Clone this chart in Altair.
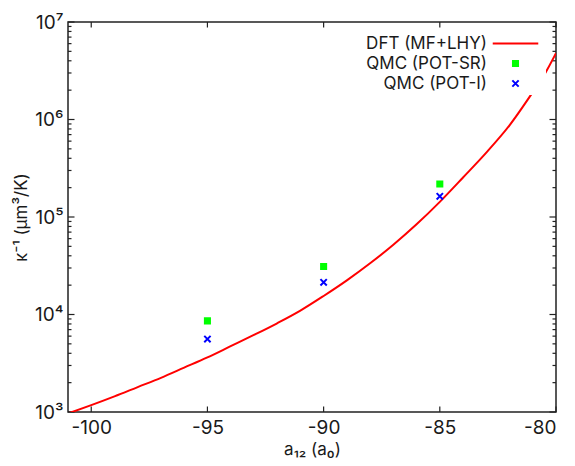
import altair as alt
import pandas as pd

# ---- data ----
x_dft = [-101, -100, -99, -98, -97, -96, -95, -94, -93, -92, -91, -90, -89, -88,
         -87, -86, -85, -84, -83, -82, -81, -80.5, -80]
y_dft = [966, 1175, 1445, 1800, 2240, 2850, 3630, 4730, 6170, 8130, 10960, 15490,
         22390, 33500, 51900, 84100, 142900, 254100, 457100, 871000, 1905000,
         2884000, 4786000]
x_qmc = [-95, -90, -85]
y_sr = [8600, 31000, 218000]
y_i = [5600, 21400, 163000]
series_names = ["DFT (MF+LHY)", "QMC (POT-SR)", "QMC (POT-I)"]

x_ticks = [-100, -95, -90, -85, -80]
y_ticks = [1e3, 1e4, 1e5, 1e6, 1e7]
y_minor = [k * 10 ** e for e in range(3, 7) for k in range(2, 10)]
x_domain = [-101, -80]
y_domain = [1e3, 1e7]

W, H = 488, 390
FONT = "Inter"
FS = 17
TICK_FS = 19
TXT = "#1a1a1a"
FRAME = "#222222"

line_df = pd.DataFrame({"a": x_dft, "k": y_dft, "series": series_names[0]})
pts_df = pd.concat([
    pd.DataFrame({"a": x_qmc, "k": y_sr, "series": series_names[1]}),
    pd.DataFrame({"a": x_qmc, "k": y_i, "series": series_names[2]}),
])

# inward tick segments (lengths converted from pixels to data units)
xspan = x_domain[1] - x_domain[0]
def dx(px):
    return px * xspan / W
def fy(px):
    return 10 ** (px * 4 / H)

vrows = []
for v in x_ticks:
    vrows.append(dict(tx=v, ty=y_domain[0], ty2=y_domain[0] * fy(5.5)))
    vrows.append(dict(tx=v, ty=y_domain[1] / fy(5.5), ty2=y_domain[1]))
vtick_df = pd.DataFrame(vrows)

hrows = []
for v in y_ticks:
    hrows.append(dict(tx=x_domain[0], tx2=x_domain[0] + dx(6.5), ty=v))
    hrows.append(dict(tx=x_domain[1] - dx(6.5), tx2=x_domain[1], ty=v))
for v in y_minor:
    hrows.append(dict(tx=x_domain[0], tx2=x_domain[0] + dx(3.5), ty=v))
    hrows.append(dict(tx=x_domain[1] - dx(3.5), tx2=x_domain[1], ty=v))
htick_df = pd.DataFrame(hrows)

x_scale = alt.Scale(domain=x_domain, nice=False, zero=False)
y_scale = alt.Scale(type="log", domain=y_domain, nice=False)

x_axis = alt.Axis(values=x_ticks, labelExpr="'' + datum.value", title="a₁₂ (a₀)",
                  labelPadding=6, titlePadding=4)
y_axis = alt.Axis(values=y_ticks,
                  labelExpr="'10' + ['⁰','¹','²','³','⁴','⁵','⁶','⁷','⁸'][round(log(datum.value)/LN10)]",
                  title="κ⁻¹ (μm³/K)", labelPadding=5, titlePadding=4)

stroke_scale = alt.Scale(domain=series_names, range=["#ff0000", "#00ff00", "#0000ff"])
fill_scale = alt.Scale(domain=series_names, range=["transparent", "#00ff00", "transparent"])
shape_scale = alt.Scale(domain=series_names, range=[
    "M-7.2,0H7.2",
    "M-0.8,-0.8H0.8V0.8H-0.8Z",
    "M-1,-1L1,1M-1,1L1,-1",
])

legend = alt.Legend(title=None, orient="top-right", offset=10, padding=3,
                    fillColor="white", labelFont=FONT, labelFontSize=FS,
                    labelColor=TXT, symbolSize=40, symbolStrokeWidth=2,
                    labelAlign="right", labelOffset={"expr": "-37"},
                    rowPadding=2, labelLimit=400)

vticks = alt.Chart(vtick_df).mark_rule(color=FRAME, strokeWidth=1.2).encode(
    x=alt.X("tx:Q", scale=x_scale, axis=x_axis),
    y=alt.Y("ty:Q", scale=y_scale, axis=y_axis),
    y2=alt.Y2("ty2"),
)
hticks = alt.Chart(htick_df).mark_rule(color=FRAME, strokeWidth=1.2).encode(
    x=alt.X("tx:Q", scale=x_scale, axis=x_axis),
    x2=alt.X2("tx2"),
    y=alt.Y("ty:Q", scale=y_scale, axis=y_axis),
)

line = alt.Chart(line_df).mark_line(strokeWidth=2, clip=True, interpolate="monotone").encode(
    x=alt.X("a:Q", scale=x_scale, axis=x_axis),
    y=alt.Y("k:Q", scale=y_scale, axis=y_axis),
    stroke=alt.Stroke("series:N", scale=stroke_scale, legend=legend),
)

points = alt.Chart(pts_df).mark_point(size=40, strokeWidth=2, opacity=1, clip=True).encode(
    x=alt.X("a:Q", scale=x_scale, axis=x_axis),
    y=alt.Y("k:Q", scale=y_scale, axis=y_axis),
    stroke=alt.Stroke("series:N", scale=stroke_scale, legend=legend),
    fill=alt.Fill("series:N", scale=fill_scale, legend=legend),
    shape=alt.Shape("series:N", scale=shape_scale, legend=legend),
)

chart = alt.layer(vticks, hticks, line, points).properties(
    width=W, height=H,
    background="white",
    padding={"left": 68, "top": 22, "right": 19, "bottom": 54},
    autosize=alt.AutoSizeParams(type="none"),
).configure_axis(
    ticks=False, domain=False, grid=False,
    labelFont=FONT, labelFontSize=TICK_FS, labelColor=TXT,
    titleFont=FONT, titleFontSize=FS, titleFontWeight="normal", titleColor=TXT,
).configure_view(stroke=FRAME, strokeWidth=1.5)

chart.save("out.html", embed_options={"renderer": "svg", "actions": False})
